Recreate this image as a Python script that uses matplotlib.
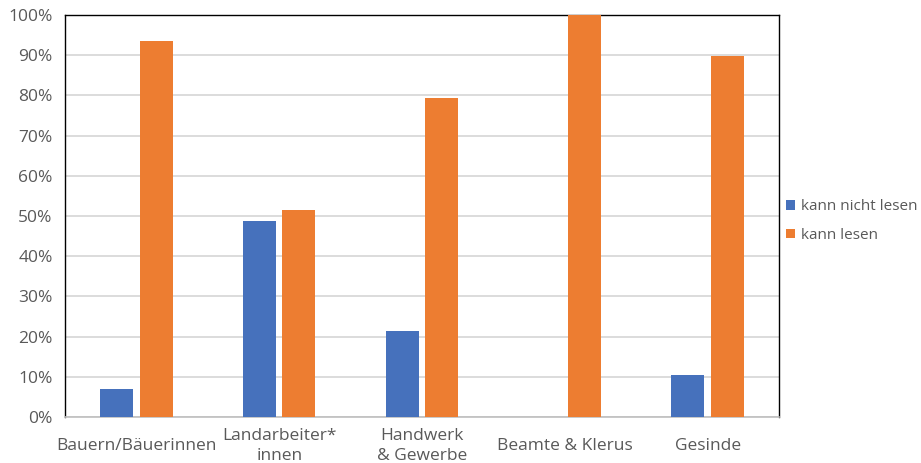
import matplotlib
matplotlib.use("Agg")
import matplotlib.pyplot as plt
import numpy as np
from matplotlib.ticker import FuncFormatter, MultipleLocator

categories = ["Bauern/Bäuerinnen", "Landarbeiter*\ninnen", "Handwerk\n& Gewerbe", "Beamte & Klerus", "Gesinde"]
kann_nicht_lesen = [7.0, 48.8, 21.4, 0.0, 10.5]
kann_lesen = [93.5, 51.4, 79.4, 100.0, 89.8]
series_names = ["kann nicht lesen", "kann lesen"]
colors = ["#4671BC", "#ED7D31"]

plt.rcParams["font.family"] = ["Open Sans", "DejaVu Sans"]

fig = plt.figure(figsize=(9.21, 4.63), dpi=100)
ax = fig.add_axes([65 / 921, 1 - 417 / 463, (779 - 65) / 921, (417 - 15) / 463])

x = np.arange(len(categories))
w = 0.232
off = 0.138
ax.bar(x - off, kann_nicht_lesen, w, color=colors[0], label=series_names[0], zorder=3)
ax.bar(x + off, kann_lesen, w, color=colors[1], label=series_names[1], zorder=3)

ax.set_xlim(-0.5, len(categories) - 0.5)
ax.set_ylim(0, 100)
ax.yaxis.set_major_locator(MultipleLocator(10))
ax.yaxis.set_major_formatter(FuncFormatter(lambda v, p: f"{v:.0f}%"))
ax.grid(axis="y", color="#d9d9d9", linewidth=1.3, zorder=0)
ax.set_xticks(x)
ax.set_xticklabels(categories, linespacing=1.3)
ax.tick_params(axis="both", length=0, labelcolor="#595959")
ax.tick_params(axis="x", labelsize=12.5, pad=21)
ax.tick_params(axis="y", labelsize=12.5, pad=9)
for lbl in ax.get_xticklabels():
    lbl.set_verticalalignment("center")

for s in ["top", "right", "left"]:
    ax.spines[s].set_color("#000000")
    ax.spines[s].set_linewidth(1.0)
ax.spines["bottom"].set_color("#bfbfbf")
ax.spines["bottom"].set_linewidth(1.2)

leg = fig.legend(loc="upper left", bbox_to_anchor=(780 / 921, 1 - 193 / 463),
                 frameon=False, fontsize=11, handlelength=0.6, handleheight=0.6,
                 handletextpad=0.4, labelspacing=0.9, borderaxespad=0)
for t in leg.get_texts():
    t.set_color("#595959")

fig.savefig("out.png", dpi=100)
